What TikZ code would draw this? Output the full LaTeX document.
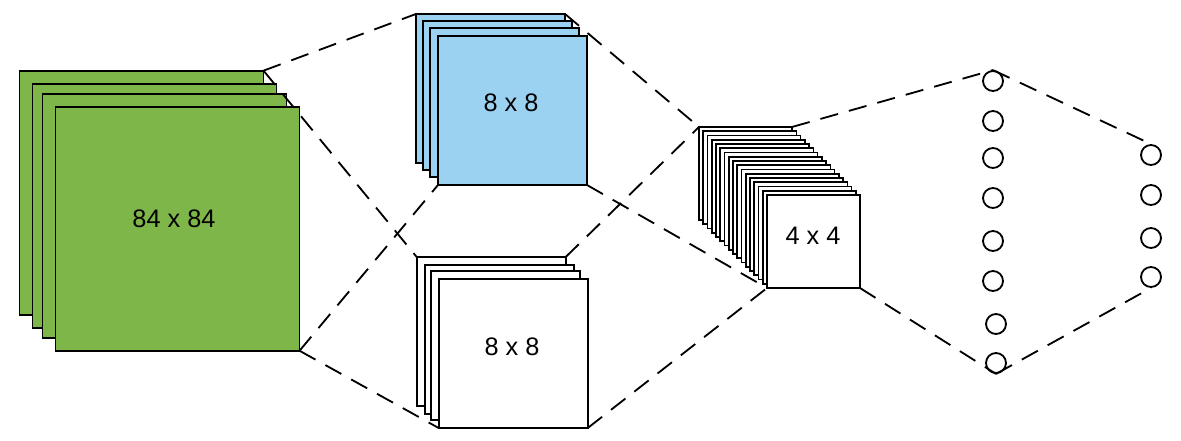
\documentclass[tikz,border=0pt]{standalone}
\usepackage{fontspec}
\setmainfont{Liberation Sans}
\definecolor{mapgreen}{RGB}{126,182,73}
\definecolor{mapblue}{RGB}{155,210,241}

\begin{document}
\begin{tikzpicture}[x=0.025cm, y=-0.025cm,
  sheet/.style={draw, line width=1.3pt, inner sep=0pt, outer sep=0pt},
  unit/.style={draw, circle, line width=1.3pt, minimum size=0.5cm, inner sep=0pt},
  link/.style={line width=1.3pt, dash pattern=on 13pt off 8pt},
  size/.style={font=\fontsize{18}{21}\selectfont}]
  \useasboundingbox (0,0) rectangle (1181,440);

  % input frames
  \foreach \i/\o in {1/0, 2/13, 3/23, 4/36}
    \node[sheet, fill=mapgreen, minimum size=6.1cm] (g\i) at (141.5+\o,192.7+\o) {};
  \node[size] (gl) at (174,219) {84 x 84};

  % first conv maps
  \foreach \i/\o in {1/0, 2/7, 3/14, 4/22}
    \node[sheet, fill=mapblue, minimum size=3.725cm] (b\i) at (490.5+\o,88.5+\o) {};
  \node[size] (bl) at (511,103) {8 x 8};

  \foreach \i/\o in {1/0, 2/8, 3/14, 4/22}
    \node[sheet, fill=white, minimum size=3.725cm] (w\i) at (491.2+\o,331.5+\o) {};
  \node[size] (wl) at (512,347) {8 x 8};

  % second conv maps
  \foreach \i in {0,...,16}
    \node[sheet, fill=white, line width=1.1pt, minimum size=2.325cm] (s\i) at (745.5+4.25*\i,173.5+4.25*\i) {};
  \node[size] (sl) at (813,236) {4 x 4};

  % units
  \foreach \i/\x/\y in {1/993/81, 2/993/121, 3/993/158, 4/993/198, 5/993/241, 6/993/281, 7/996/324, 8/996/363}
    \node[unit] (c\i) at (\x,\y) {};
  \foreach \i/\y in {1/155, 2/195, 3/238, 4/277}
    \node[unit] (d\i) at (1151,\y) {};

  \draw[link] (g1.north east) -- (b1.north west);
  \draw[link] (g1.north east) -- (w1.north west);
  \draw[link] (g4.south east) -- (b4.south west);
  \draw[link] (g4.south east) -- (w4.south west);
  \draw[link] (b1.north east) -- (s0.north west);
  \draw[link] (w1.north east) -- (s0.north west);
  \draw[link] (b4.south east) -- (s16.south west);
  \draw[link] (w4.south east) -- (s16.south west);
  \draw[link] (s0.north east) -- (c1.north);
  \draw[link] (s16.south east) -- (c8.south);
  \draw[link] (c1.north) -- (d1.north);
  \draw[link] (c8.south) -- (d4.south);
\end{tikzpicture}
\end{document}
